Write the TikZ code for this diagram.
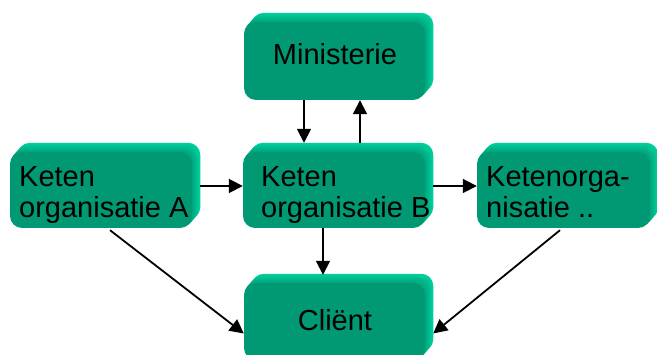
\documentclass[tikz,border=0pt]{standalone}
\usepackage{fontspec}
\setmainfont{Liberation Sans}
\usetikzlibrary{arrows.meta,backgrounds}
\definecolor{faceG}{RGB}{0,153,115}
\definecolor{rimLo}{RGB}{0,168,126}
\definecolor{rimHi}{RGB}{0,208,158}
\tikzset{
  x=1pt, y=1pt,
  blk/.style={draw=none, fill=faceG, rounded corners=12pt, inner sep=0pt},
  lbl/.style={inner sep=0pt, font=\fontsize{29}{31}\selectfont},
  arr/.style={line width=1.8pt, -{Triangle[length=14pt,width=14pt]}}
}
\begin{document}
\begin{tikzpicture}
\useasboundingbox (0,0) rectangle (657,355);
\clip (0,0) rectangle (657,355);

% front faces of the blocks
\node[blk, minimum width=181pt, minimum height=78pt] (min) at (334.5,294) {};
\node[blk, minimum width=182pt, minimum height=76pt] (ka)  at (101,165) {};
\node[blk, minimum width=182pt, minimum height=76pt] (kb)  at (334,165) {};
\node[blk, minimum width=173pt, minimum height=76pt] (kc)  at (563.5,165) {};
\node[blk, minimum width=181pt, minimum height=77pt] (cl)  at (334.5,33.5) {};

% extruded rims behind the faces
\begin{scope}[on background layer]
  \foreach \n in {min,ka,kb,kc,cl}{
    \foreach \i in {9,8,...,1}{
      \pgfmathsetmacro{\mix}{(\i-1)/8*100}
      \fill[rimHi!\mix!rimLo, rounded corners=12pt]
        ([shift={(\i*0.9,\i)}]\n.south west) rectangle ([shift={(\i*0.9,\i)}]\n.north east);
    }
  }
\end{scope}

% labels
\node[lbl, anchor=base] (tmin) at (335,290) {Ministerie};
\node[lbl, anchor=base west] (ta1) at (19,168) {Keten};
\node[lbl, anchor=base west] (ta2) at (19,137) {organisatie A};
\node[lbl, anchor=base west] (tb1) at (261,168) {Keten};
\node[lbl, anchor=base west] (tb2) at (261,137) {organisatie B};
\node[lbl, anchor=base west] (tc1) at (486,168) {Ketenorga-};
\node[lbl, anchor=base west] (tc2) at (486,137) {nisatie ..};
\node[lbl, anchor=base] (tcl) at (335,24) {Cliënt};

% connectors
\draw[arr] ([xshift=-30.5pt]min.south) -- ([xshift=-30pt,yshift=9pt]kb.north);
\draw[arr] ([xshift=26pt,yshift=9pt]kb.north) -- ([xshift=25.5pt]min.south);
\draw[arr] ([xshift=8pt,yshift=4pt]ka.east) -- ([yshift=4pt]kb.west);
\draw[arr] ([xshift=8pt,yshift=4pt]kb.east) -- ([yshift=4pt]kc.west);
\draw[arr] ([xshift=-11pt]kb.south) -- ([xshift=-11.5pt,yshift=8pt]cl.north);
\draw[arr] ([xshift=9pt,yshift=-2pt]ka.south) -- ([yshift=-12pt]cl.west);
\draw[arr] ([xshift=-3.5pt,yshift=-2pt]kc.south) -- ([xshift=8pt,yshift=-12pt]cl.east);
\end{tikzpicture}
\end{document}
